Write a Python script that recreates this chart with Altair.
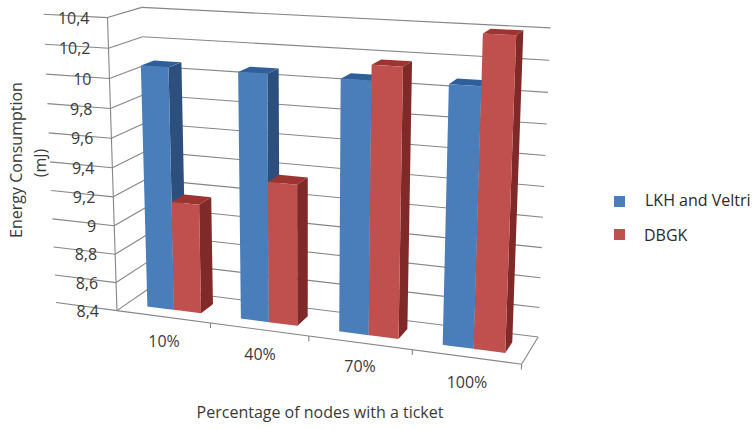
import altair as alt
import numpy as np
import pandas as pd

# Chart content
categories = ["10%", "40%", "70%", "100%"]
lkh_veltri = [10.07, 10.07, 10.07, 10.08]
dbgk = [9.16, 9.36, 10.17, 10.40]
value_ticks = [8.4, 8.6, 8.8, 9.0, 9.2, 9.4, 9.6, 9.8, 10.0, 10.2, 10.4]
tick_labels = ["8,4", "8,6", "8,8", "9", "9,2", "9,4", "9,6", "9,8", "10", "10,2", "10,4"]
series_names = ["LKH and Veltri", "DBGK"]

V_MIN, V_MAX = 8.4, 10.4
W, H = 756, 430
TEXT = "#3a3a3a"
GRID = "#868686"
FONT = "Open Sans"

# Camera for the 3D box: (across, depth, height) in unit coordinates -> canvas pixels
anchors = [
    ((0, 0, 0), (118, 309)), ((0, 0, 1), (106, 18)), ((0, 0, 0.5), (113, 167)),
    ((0, 1, 0), (148, 290)), ((0, 1, 1), (143, 7)),
    ((1, 1, 0), (538, 335)), ((1, 1, 1), (550, 28)), ((1, 1, 0.5), (545, 187)),
    ((1, 0, 0), (522, 365)),
    ((0.25, 0, 0), (211, 323)), ((0.5, 0, 0), (308, 337)), ((0.75, 0, 0), (412, 350)),
]
rows, rhs = [], []
for (a, b, c), (px, py) in anchors:
    rows.append([a, b, c, 1, 0, 0, 0, 0, -px * a, -px * b, -px * c])
    rows.append([0, 0, 0, 0, a, b, c, 1, -py * a, -py * b, -py * c])
    rhs += [px, py]
cam = np.linalg.lstsq(np.array(rows, float), np.array(rhs, float), rcond=None)[0]


def project(u, d, v):
    """Project a point given by across position, depth and data value."""
    h = (v - V_MIN) / (V_MAX - V_MIN)
    w = cam[8] * u + cam[9] * d + cam[10] * h + 1
    return ((cam[0] * u + cam[1] * d + cam[2] * h + cam[3]) / w,
            (cam[4] * u + cam[5] * d + cam[6] * h + cam[7]) / w)


# Straight line segments of the box: walls, floor and ticks
segments = []


def add_segment(p, q):
    sid = len(segments)
    segments.extend([
        {"seg": sid, "step": 0, "x": p[0], "y": p[1]},
        {"seg": sid, "step": 1, "x": q[0], "y": q[1]},
    ])


for v in value_ticks:
    add_segment(project(0, 1, v), project(1, 1, v))      # back wall
    add_segment(project(-0.17, 0, v), project(0, 0, v))  # tick on the value axis
    add_segment(project(0, 0, v), project(0, 1, v))      # side wall
add_segment(project(0, 0, V_MIN), project(0, 0, V_MAX))  # value axis
add_segment(project(0, 0, V_MIN), project(1, 0, V_MIN))  # floor front edge
add_segment(project(1, 0, V_MIN), project(1, 1, V_MIN))  # floor right edge
for k in range(1, 5):
    add_segment(project(k / 4, 0, V_MIN), project(k / 4, 0, V_MIN - 0.035))

# Faces of the bars, split into x-sorted spans for the area mark
faces = []


def add_face(poly_id, pts, fill):
    xs = sorted({round(p[0], 2) for p in pts})
    n = len(pts)
    for x in xs:
        hits = []
        for i in range(n):
            (x0, y0), (x1, y1) = pts[i], pts[(i + 1) % n]
            lo, hi = min(x0, x1), max(x0, x1)
            if lo - 0.01 <= x <= hi + 0.01:
                if abs(x1 - x0) < 1e-6:
                    hits += [y0, y1]
                else:
                    t = min(1, max(0, (x - x0) / (x1 - x0)))
                    hits.append(y0 + t * (y1 - y0))
        faces.append({"poly": poly_id, "x": x, "y": min(hits), "y2": max(hits), "fill": fill})


SHADES = [
    {"front": "#4a7ebb", "side": "#2c4f7d", "top": "#2f5f9a"},
    {"front": "#c0504d", "side": "#7f2a28", "top": "#9c3432"},
]
BAR_EDGES = (0.225, 0.515, 0.805)
D0, D1 = 0.3, 0.7

poly_id = 0
for k in range(len(categories)):
    for s, value in enumerate((lkh_veltri[k], dbgk[k])):
        u0 = (k + BAR_EDGES[s]) / 4
        u1 = (k + BAR_EDGES[s + 1]) / 4
        side = [project(u1, D0, V_MIN), project(u1, D1, V_MIN), project(u1, D1, value), project(u1, D0, value)]
        top = [project(u0, D0, value), project(u1, D0, value), project(u1, D1, value), project(u0, D1, value)]
        front = [project(u0, D0, V_MIN), project(u1, D0, V_MIN), project(u1, D0, value), project(u0, D0, value)]
        for pts, shade in ((side, "side"), (top, "top"), (front, "front")):
            add_face(poly_id, pts, SHADES[s][shade])
            poly_id += 1

# Text placed next to the projected axes
texts = []
for v, lab in zip(value_ticks, tick_labels):
    px, py = project(0, 0, v)
    texts.append({"x": px - 18, "y": py + 1, "t": lab})
value_labels = pd.DataFrame(texts)

cat_labels = pd.DataFrame({
    "x": [164, 260, 360, 467],
    "y": [342, 355, 367, 383],
    "t": categories,
})

px_x = alt.X("x:Q", scale=alt.Scale(domain=[0, W], nice=False, zero=False), axis=None)
px_y = alt.Y("y:Q", scale=alt.Scale(domain=[H, 0], nice=False, zero=False), axis=None)

lines = alt.Chart(pd.DataFrame(segments)).mark_line(color=GRID, strokeWidth=1.1).encode(
    x=px_x, y=px_y, detail="seg:N", order="step:Q")

bars = alt.Chart(pd.DataFrame(faces)).mark_area(interpolate="linear").encode(
    x=px_x, y=px_y, y2="y2:Q",
    detail="poly:N",
    color=alt.Color("fill:N", scale=None),
)

value_text = alt.Chart(value_labels).mark_text(
    align="right", baseline="middle", font=FONT, fontSize=16, color=TEXT
).encode(x=px_x, y=px_y, text="t:N")

cat_text = alt.Chart(cat_labels).mark_text(
    align="center", baseline="middle", font=FONT, fontSize=16, color=TEXT
).encode(x=px_x, y=px_y, text="t:N")

x_title = alt.Chart(pd.DataFrame({"x": [320], "y": [413], "t": ["Percentage of nodes with a ticket"]})).mark_text(
    align="center", baseline="middle", font=FONT, fontSize=16, color=TEXT
).encode(x=px_x, y=px_y, text="t:N")

y_title = alt.Chart(pd.DataFrame({
    "x": [17, 41], "y": [160, 163], "t": ["Energy Consumption", "(mJ)"]
})).mark_text(
    align="center", baseline="middle", font=FONT, fontSize=16, angle=270, color=TEXT
).encode(x=px_x, y=px_y, text="t:N")

legend_marks = alt.Chart(pd.DataFrame({
    "x": [619.5, 619.5], "y": [201.5, 234.5], "fill": [SHADES[0]["front"], SHADES[1]["front"]]
})).mark_square(size=121, opacity=1).encode(
    x=px_x, y=px_y, color=alt.Color("fill:N", scale=None))

legend_text = alt.Chart(pd.DataFrame({
    "x": [645, 644], "y": [201, 236], "t": series_names
})).mark_text(
    align="left", baseline="middle", font=FONT, fontSize=16, color="#2a2a2a"
).encode(x=px_x, y=px_y, text="t:N")

chart = alt.layer(
    lines, bars, value_text, cat_text, x_title, y_title, legend_marks, legend_text
).properties(
    width=W, height=H, padding=0, background="white",
    autosize=alt.AutoSizeParams(type="none"),
).configure_view(stroke=None)

chart.save("out.html", embed_options={"renderer": "svg", "actions": False})
